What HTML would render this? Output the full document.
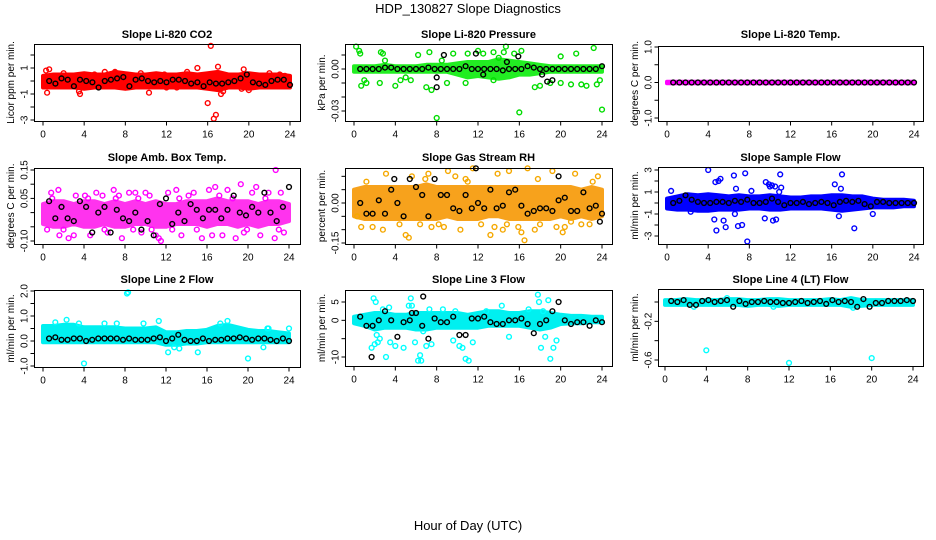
<!DOCTYPE html>
<html><head><meta charset="utf-8"><style>
html,body{margin:0;padding:0;background:#fff;}
svg{display:block;font-family:"Liberation Sans",sans-serif;}
</style></head><body>
<svg id="chart" width="936" height="540" viewBox="0 0 936 540">
<rect x="0" y="0" width="936" height="540" fill="#fff"/>
<text x="468" y="13" text-anchor="middle" font-size="13">HDP_130827  Slope Diagnostics</text>
<text x="468" y="530" text-anchor="middle" font-size="13">Hour of Day (UTC)</text>
</svg>
<script>
// ---- shared data ----
const medHours = [0.6,1.2,1.8,2.4,3.0,3.6,4.2,4.8,5.4,6.0,6.6,7.2,7.8,8.4,9.0,9.6,10.2,10.8,11.4,12.0,12.6,13.2,13.8,14.4,15.0,15.6,16.2,16.8,17.4,18.0,18.6,19.2,19.8,20.4,21.0,21.6,22.2,22.8,23.4,24.0];
const bandHours = [0,1,2,3,4,5,6,7,8,9,10,11,12,13,14,15,16,17,18,19,20,21,22,23,24];
const xTicks = [0,4,8,12,16,20,24];

// P1 CO2
const co2Lo = [-0.5,-0.5,-0.5,-0.5,-0.6,-0.5,-0.5,-0.5,-0.6,-0.5,-0.5,-0.5,-0.5,-0.5,-0.5,-0.5,-0.6,-0.7,-0.5,-0.5,-0.6,-0.5,-0.5,-0.5,-0.5];
const co2Hi = [0.4,0.5,0.5,0.5,0.6,0.5,0.5,0.7,0.6,0.5,0.5,0.6,0.5,0.5,0.6,0.5,0.6,0.7,0.5,0.5,0.6,0.5,0.5,0.5,0.4];
const co2Med = [0.0,-0.2,0.2,0.1,-0.4,0.1,0.0,-0.1,-0.5,0.0,0.1,0.2,0.3,-0.4,0.1,0.2,0.0,-0.1,0.0,-0.1,0.1,0.1,0.0,-0.2,-0.1,-0.4,-0.1,-0.2,-0.2,-0.1,0.0,0.2,0.5,-0.1,-0.2,-0.3,0.0,0.1,0.1,-0.3];
const co2X = [0.3,0.6,0.4,3.5,3.6,7.0,9.5,10.3,11.8,12.0,15.0,15.5,16.0,16.3,16.6,16.8,17.0,17.3,17.5,19.5,19.8,20.0,19.3,22.0,23.0,23.5,14.0,5.0,6.0,2.0,8.0,13.0];
const co2Y = [0.8,0.9,-0.9,-0.8,-1.0,0.7,0.6,-0.9,0.5,-0.5,1.0,-0.4,-1.7,2.7,-2.9,-2.6,1.1,-1.0,-0.8,0.9,0.5,-0.7,-0.6,0.6,0.5,0.4,0.7,0.5,0.7,0.6,-0.5,-0.5];

// P2 Pressure
const presLo = [-0.002,-0.002,-0.002,-0.002,-0.002,-0.002,-0.002,-0.002,-0.002,-0.002,-0.004,-0.006,-0.005,-0.006,-0.007,-0.006,-0.004,-0.004,-0.003,-0.002,-0.002,-0.002,-0.002,-0.002,-0.002];
const presHi = [0.002,0.002,0.002,0.003,0.002,0.002,0.002,0.003,0.003,0.003,0.004,0.005,0.005,0.005,0.007,0.006,0.005,0.004,0.003,0.002,0.002,0.002,0.002,0.002,0.002];
const presMed = [0.0,0.0,0.0,0.0,0.001,0.001,0.0,0.0,0.0,0.0,0.0,0.001,0.0,0.0,0.0,0.0,0.0,0.002,0.0,0.0,0.0,0.0,0.0,-0.001,0.0,0.0,0.0,0.002,0.001,0.0,0.0,0.0,0.0,0.0,0.0,0.0,0.0,0.0,0.0,0.002];
const presX = [0.2,0.5,0.6,0.7,1.0,1.2,2.6,2.8,2.5,3.0,4.0,4.5,5.0,5.5,6.2,7.0,7.5,7.3,8.0,8.5,9.0,9.6,10.8,11.0,12.0,12.5,13.5,13.5,14.0,14.5,15.5,16.0,16.2,14.7,17.5,18.0,20.0,20.0,21.0,21.5,22.0,22.5,23.2,23.5,24.0,23.8,19.0];
const presY = [0.016,0.013,0.011,-0.012,-0.008,-0.010,0.012,0.011,-0.010,0.006,-0.012,-0.008,-0.006,-0.008,0.010,-0.013,-0.015,0.012,-0.035,0.006,-0.010,0.011,-0.010,0.011,0.013,0.011,0.012,-0.008,0.008,0.012,0.011,-0.031,0.013,0.016,-0.013,-0.012,0.009,-0.010,-0.011,0.011,-0.011,-0.012,0.015,-0.011,-0.029,-0.008,-0.010];
const presBlkX = [8.0,8.0,8.7,11.8,12.5,14.8,15.9,18.2,18.7,19.2];
const presBlkY = [-0.006,-0.013,0.010,0.011,-0.004,0.005,0.009,-0.004,-0.009,-0.008];

// P3 Li-820 Temp
const tempLo = [-0.02,-0.02,-0.02,-0.02,-0.02,-0.02,-0.02,-0.02,-0.02,-0.02,-0.02,-0.02,-0.02,-0.02,-0.02,-0.02,-0.02,-0.02,-0.02,-0.02,-0.02,-0.02,-0.02,-0.02,-0.02];
const tempHi = [0.02,0.02,0.02,0.02,0.02,0.02,0.02,0.02,0.02,0.02,0.02,0.02,0.02,0.02,0.02,0.02,0.02,0.02,0.02,0.02,0.02,0.02,0.02,0.02,0.02];
const tempMed = [0,0,0,0,0,0,0,0,0,0,0,0,0,0,0,0,0,0,0,0,0,0,0,0,0,0,0,0,0,0,0,0,0,0,0,0,0,0,0,0];
const tempX = [];
const tempY = [];

// P4 Amb Box Temp
const ambLo = [-0.04,-0.05,-0.05,-0.04,-0.05,-0.05,-0.04,-0.05,-0.05,-0.04,-0.04,-0.05,-0.05,-0.04,-0.04,-0.04,-0.05,-0.04,-0.04,-0.05,-0.04,-0.05,-0.04,-0.04,-0.03];
const ambHi = [0.03,0.04,0.04,0.03,0.04,0.04,0.03,0.04,0.03,0.04,0.03,0.04,0.03,0.03,0.04,0.04,0.04,0.05,0.04,0.04,0.04,0.03,0.04,0.04,0.03];
const ambMed = [0.04,-0.02,0.02,-0.02,-0.03,0.04,0.02,-0.07,0.00,0.02,-0.07,0.01,-0.02,-0.03,0.00,-0.06,-0.03,-0.08,0.03,0.05,-0.04,0.00,-0.03,0.03,0.01,-0.02,0.01,0.01,-0.02,0.01,0.06,0.00,-0.01,0.02,0.00,0.07,0.00,-0.03,0.02,0.09];
const ambX = [0.4,0.8,1.5,1.6,2.5,3.2,4.4,4.6,5.2,6.3,6.9,7.1,7.7,8.4,9.0,9.6,10.0,11.0,11.3,11.5,12.2,13.0,13.5,14.7,15.5,16.2,16.8,17.5,18.0,18.8,19.3,19.6,20.8,21.2,22.0,22.6,22.7,23.2,23.5,3.0,5.8,10.6,14.2,16.5,20.4,0.9,2.0,4.1,6.0,7.4,8.8,9.3,10.4,12.6,13.3,15.0,17.2,18.5,19.9,21.7,23.0];
const ambY = [-0.06,0.07,0.08,-0.08,-0.09,0.06,0.05,-0.08,0.07,-0.07,0.08,0.05,-0.09,0.07,0.07,-0.07,0.07,-0.08,-0.09,-0.10,0.07,0.08,-0.08,0.07,-0.09,0.08,0.09,-0.08,0.08,-0.09,0.10,-0.07,0.09,-0.08,0.07,-0.09,0.15,0.07,-0.07,-0.08,0.06,-0.06,0.06,-0.08,0.07,0.05,-0.06,0.06,-0.06,0.06,-0.06,0.05,0.06,-0.06,0.05,-0.06,0.06,0.05,-0.06,0.05,-0.06];

// P5 Gas Stream RH
const rhLo = [-0.05,-0.06,-0.06,-0.06,-0.06,-0.06,-0.06,-0.06,-0.06,-0.05,-0.06,-0.06,-0.06,-0.05,-0.05,-0.06,-0.06,-0.06,-0.06,-0.06,-0.05,-0.06,-0.05,-0.06,-0.05];
const rhHi = [0.05,0.06,0.06,0.06,0.06,0.06,0.06,0.07,0.06,0.06,0.06,0.06,0.06,0.06,0.06,0.06,0.06,0.06,0.06,0.06,0.06,0.06,0.05,0.06,0.05];
const rhMed = [0.00,-0.04,-0.04,0.01,-0.04,0.05,0.00,-0.05,0.09,0.06,0.03,-0.05,0.09,0.03,0.03,-0.02,-0.03,0.03,-0.02,0.00,-0.02,0.05,-0.02,-0.01,0.04,0.05,-0.01,-0.04,-0.03,-0.02,-0.02,-0.03,0.01,0.02,-0.03,-0.03,0.04,-0.02,-0.01,-0.04];
const rhX = [0.3,0.7,2.8,3.1,5.0,5.3,5.6,6.4,7.2,7.5,8.7,9.1,10.3,10.8,11.5,12.3,13.2,13.6,14.4,15.0,15.9,16.2,16.5,16.8,17.5,18.0,19.2,19.6,20.4,21.4,22.0,22.8,23.6,1.8,9.8,13.9,20.2,1.2,4.4,6.9,8.2,11.0,14.8,17.8,21.0,23.1];
const rhY = [-0.05,-0.09,-0.10,0.11,-0.12,-0.13,0.10,-0.08,0.11,-0.09,-0.09,0.12,-0.10,0.09,0.13,-0.08,-0.12,-0.09,-0.10,0.12,-0.09,-0.11,-0.14,0.13,-0.10,-0.08,0.12,-0.09,-0.09,0.11,-0.08,-0.08,0.10,-0.09,0.10,0.11,-0.11,0.08,-0.08,0.09,-0.08,0.08,-0.08,0.09,-0.07,0.08];
const rhBlkX = [3.9,11.8,19.8,23.8];
const rhBlkY = [0.09,0.13,0.10,-0.07];

// P6 Sample Flow
const sfLo = [-0.5,-0.6,-0.6,-0.7,-0.7,-0.6,-0.6,-0.6,-0.5,-0.5,-0.6,-0.6,-0.5,-0.5,-0.5,-0.5,-0.6,-0.7,-0.6,-0.5,-0.4,-0.4,-0.4,-0.3,-0.3];
const sfHi = [0.4,0.6,0.8,0.7,0.8,0.7,0.6,0.7,0.6,0.6,0.7,0.6,0.5,0.5,0.6,0.6,0.7,0.7,0.6,0.6,0.4,0.3,0.3,0.3,0.2];
const sfMed = [0.0,0.2,0.7,0.3,0.1,0.0,0.0,0.1,0.1,0.0,0.2,0.1,0.3,0.0,0.0,0.1,0.4,0.1,-0.2,0.0,0.0,0.1,-0.1,0.0,0.1,0.0,-0.2,0.1,0.2,0.1,0.2,-0.1,-0.3,0.1,0.1,0.0,0.0,0.0,0.0,0.0];
const sfX = [0.4,4.0,4.7,4.8,5.0,5.2,5.5,5.7,6.5,6.7,6.9,7.3,7.6,7.8,8.2,9.5,9.6,9.9,10.0,10.2,10.3,10.5,10.6,10.9,11.0,11.1,16.3,16.7,16.9,17.0,18.2,20.0,4.6,6.6,2.3];
const sfY = [1.1,3.0,1.9,-2.5,2.0,2.2,-1.6,-2.2,2.5,1.3,-2.1,-2.0,2.7,-3.5,1.1,-1.4,1.9,1.7,1.5,1.6,-1.6,1.5,-1.5,1.0,2.6,1.4,1.7,-1.2,1.3,2.6,-2.3,-1.0,-1.5,-1.0,-0.8];

// P7 Line 2 Flow
const l2Lo = [-0.05,-0.05,-0.05,-0.05,-0.05,-0.05,-0.05,-0.05,-0.05,-0.05,-0.05,-0.05,-0.15,-0.15,-0.1,-0.1,-0.05,-0.05,-0.05,-0.05,-0.05,-0.05,-0.05,-0.05,-0.05];
const l2Hi = [0.6,0.6,0.65,0.65,0.55,0.55,0.55,0.55,0.5,0.5,0.5,0.55,0.35,0.35,0.4,0.4,0.45,0.6,0.65,0.55,0.45,0.4,0.4,0.35,0.3];
const l2Med = [0.1,0.15,0.05,0.05,0.1,0.1,0.0,0.05,0.1,0.1,0.1,0.1,0.05,0.1,0.05,0.05,0.05,0.1,0.15,0.0,0.1,0.25,0.05,0.0,0.0,0.1,0.0,0.05,0.05,0.1,0.1,0.15,0.1,0.05,0.1,0.1,0.05,0.0,0.1,0.0];
const l2X = [1.2,2.3,3.5,6.0,7.2,8.2,8.3,11.3,12.2,12.8,13.3,15.1,17.3,18.0,20.0,21.5,21.9,22.0,24.0,4.0,9.8];
const l2Y = [0.75,0.85,0.7,0.7,0.7,1.9,1.95,0.8,-0.45,-0.25,-0.3,-0.45,0.7,0.8,-0.7,-0.25,0.5,0.5,0.5,-0.9,0.7];

// P8 Line 3 Flow
const l3Lo = [-0.8,-1.5,-2.5,-2.0,-2.0,-2.0,-2.5,-2.5,-2.0,-2.0,-2.0,-2.0,-2.0,-1.5,-1.5,-1.5,-1.5,-2.0,-2.5,-2.0,-1.0,-0.8,-0.8,-0.5,-0.5];
const l3Hi = [1.0,1.5,2.0,2.0,1.5,1.5,2.0,2.0,2.0,2.0,2.0,1.5,2.0,2.5,2.5,2.0,2.0,2.5,2.5,2.0,1.5,1.2,1.2,1.0,1.0];
const l3Med = [1.0,-1.5,-1.5,0.0,2.5,0.0,-4.5,-0.5,0.0,2.0,-1.5,-5.0,0.5,-0.5,-0.5,1.0,-4.0,-4.0,0.5,0.5,1.0,-0.5,-1.0,-1.0,0.0,0.0,0.5,-1.0,-3.5,-1.0,0.0,2.5,5.0,0.0,-1.0,-0.5,-0.5,-1.5,0.0,-0.5];
const l3X = [1.7,1.9,2.0,2.1,2.3,2.5,2.8,3.1,3.4,3.5,4.0,4.8,5.3,5.5,5.6,5.9,6.2,6.4,6.5,6.7,7.0,7.5,8.6,9.6,9.8,10.2,10.5,10.8,11.1,11.5,14.3,15.0,17.8,17.9,18.1,18.3,18.5,18.8,19.0,19.3,19.6,2.2,7.3,12.8,16.9];
const l3Y = [-7.5,6.0,-6.5,5.0,-6.0,-5.0,3.0,-10.0,3.5,-6.0,-7.0,-7.5,4.0,6.0,4.0,-6.0,-11.0,-9.5,-11.0,-3.0,-7.0,-6.5,3.0,-5.5,2.5,-7.0,-7.5,-10.5,-11.0,-6.0,4.0,-4.5,7.0,5.0,-7.5,2.5,-4.5,5.5,-10.5,-7.5,-5.5,-4.0,3.0,2.5,3.0];
const l3BlkX = [1.7,5.6,6.7];
const l3BlkY = [-10.0,2.0,6.5];

// P9 Line 4 (LT) Flow
const l4Lo = [-0.03,-0.03,-0.03,-0.03,-0.03,-0.03,-0.03,-0.03,-0.04,-0.03,-0.03,-0.04,-0.03,-0.03,-0.03,-0.03,-0.03,-0.03,-0.05,-0.04,-0.03,-0.03,-0.03,-0.03,-0.03];
const l4Hi = [0.02,0.02,0.03,0.02,0.02,0.02,0.03,0.03,0.02,0.02,0.03,0.03,0.02,0.02,0.02,0.02,0.03,0.02,0.04,0.02,0.02,0.02,0.02,0.02,0.02];
const l4Med = [0.01,0.0,0.02,-0.03,-0.03,0.01,0.02,0.0,0.01,0.02,-0.05,0.01,-0.02,0.0,0.0,0.01,0.0,0.0,-0.01,-0.01,0.0,0.01,-0.01,0.0,0.01,-0.02,0.02,0.0,0.01,0.0,-0.05,0.03,-0.05,-0.01,-0.01,0.01,0.01,0.01,0.02,0.01];
const l4X = [4.0,12.0,20.0,6.0,2.8,10.5,18.2];
const l4Y = [-0.5,-0.63,-0.58,0.04,-0.05,-0.05,-0.06];

// ---- layout ----
const panels = [
 {id:'co2', title:'Slope Li-820 CO2', ylab:'Licor ppm per min.', col:'#ff0000', fill:'#ff0000', ty:38, bx:34,by:44,bw:266,bh:77, x0:43,x1:290, ya:1,ypa:68, yb:-3,ypb:120, ticks:[2,1,0,-1,-2,-3], labels:['','1','','-1','','-3'], lo:co2Lo, hi:co2Hi, med:co2Med, px:co2X, py:co2Y, ytx:10},
 {id:'pressure', title:'Slope Li-820 Pressure', ylab:'kPa per min.', col:'#00dd00', fill:'#22ee22', ty:38, bx:345,by:44,bw:267,bh:77, x0:354,x1:602, ya:0,ypa:69, yb:-0.03,ypb:111, ticks:[0.01,0,-0.01,-0.02,-0.03], labels:['','0.00','','','-0.03'], lo:presLo, hi:presHi, med:presMed, px:presX, py:presY, bkx:presBlkX, bky:presBlkY, ytx:321},
 {id:'li820-temp', title:'Slope Li-820 Temp.', ylab:'degrees C per min.', col:'#ff00ff', fill:'#ff00ff', ty:38, bx:658,by:46,bw:265,bh:75, x0:667,x1:914, ya:1,ypa:47, yb:-1,ypb:118, ticks:[1,0.5,0,-0.5,-1], labels:['1.0','','0.0','','-1.0'], lo:tempLo, hi:tempHi, med:tempMed, px:tempX, py:tempY, ytx:634},
 {id:'amb-temp', title:'Slope Amb. Box Temp.', ylab:'degrees C per min.', col:'#ff00ff', fill:'#ff33ee', ty:161, bx:34,by:168,bw:266,bh:76, x0:43,x1:289, ya:0.15,ypa:170, yb:-0.10,ypb:241, ticks:[0.15,0.10,0.05,0,-0.05,-0.10], labels:['0.15','','0.05','','','-0.10'], lo:ambLo, hi:ambHi, med:ambMed, px:ambX, py:ambY, ytx:10},
 {id:'rh', title:'Slope Gas Stream RH', ylab:'percent per min.', col:'#f5a800', fill:'#f7a21c', ty:161, bx:345,by:168,bw:267,bh:76, x0:354,x1:602, ya:0,ypa:203, yb:-0.15,ypb:243, ticks:[0.10,0.05,0,-0.05,-0.10,-0.15], labels:['','','0.00','','','-0.15'], lo:rhLo, hi:rhHi, med:rhMed, px:rhX, py:rhY, bkx:rhBlkX, bky:rhBlkY, ytx:321},
 {id:'sample-flow', title:'Slope Sample Flow', ylab:'ml/min per min.', col:'#0000ff', fill:'#0000ff', ty:161, bx:658,by:167,bw:265,bh:77, x0:667,x1:914, ya:3,ypa:170, yb:-3,ypb:236, ticks:[3,2,1,0,-1,-2,-3], labels:['3','','1','','-1','','-3'], lo:sfLo, hi:sfHi, med:sfMed, px:sfX, py:sfY, ytx:634},
 {id:'line2-flow', title:'Slope Line 2 Flow', ylab:'ml/min per min.', col:'#00ffff', fill:'#00f0f0', ty:283, bx:34,by:290,bw:266,bh:77, x0:43,x1:289, ya:2,ypa:291, yb:-1,ypb:366, ticks:[2,1.5,1,0.5,0,-0.5,-1], labels:['2.0','','1.0','','0.0','','-1.0'], lo:l2Lo, hi:l2Hi, med:l2Med, px:l2X, py:l2Y, ytx:10},
 {id:'line3-flow', title:'Slope Line 3 Flow', ylab:'ml/min per min.', col:'#00ffff', fill:'#00f0f0', ty:283, bx:345,by:290,bw:267,bh:76, x0:354,x1:602, ya:5,ypa:302, yb:-10,ypb:357, ticks:[5,0,-5,-10], labels:['5','0','','-10'], lo:l3Lo, hi:l3Hi, med:l3Med, px:l3X, py:l3Y, bkx:l3BlkX, bky:l3BlkY, ytx:321},
 {id:'line4-flow', title:'Slope Line 4 (LT) Flow', ylab:'ml/min per min.', col:'#00ffff', fill:'#00f0f0', ty:283, bx:658,by:289,bw:265,bh:77, x0:665,x1:913, ya:0,ypa:302, yb:-0.6,ypb:360, ticks:[0,-0.2,-0.4,-0.6], labels:['','-0.2','','-0.6'], lo:l4Lo, hi:l4Hi, med:l4Med, px:l4X, py:l4Y, ytx:634}
];

const NS = 'http://www.w3.org/2000/svg';
const svg = document.getElementById('chart');
function mk(tag, attrs, parent){
  const e = document.createElementNS(NS, tag);
  for (const k in attrs) e.setAttribute(k, attrs[k]);
  (parent||svg).appendChild(e);
  return e;
}

panels.forEach(p => {
  const g = mk('g', {});
  
  
  const xs = h => p.x0 + (h/24)*(p.x1 - p.x0);
  const ys = v => p.ypa + (v - p.ya)*(p.ypb - p.ypa)/(p.yb - p.ya);
  const clipId = 'clip-' + p.id;
  const cp = mk('clipPath', {id: clipId}, g);
  mk('rect', {x:p.bx-4, y:p.by-4, width:p.bw+8, height:p.bh+8}, cp);
  const data = mk('g', {'clip-path':'url(#'+clipId+')'}, g);

  let pts = [];
  bandHours.forEach((h,i)=>pts.push(xs(h).toFixed(1)+','+ys(p.hi[i]).toFixed(1)));
  for (let i=bandHours.length-1;i>=0;i--) pts.push(xs(bandHours[i]).toFixed(1)+','+ys(p.lo[i]).toFixed(1));
  const band = mk('polygon', {points:pts.join(' '), fill:p.fill, stroke:p.fill, 'stroke-width':4, 'stroke-linejoin':'round'}, data);
  
  

  p.px.forEach((h,i)=>{
    const c = mk('circle', {cx:xs(h).toFixed(1), cy:ys(p.py[i]).toFixed(1), r:2.4, fill:'none', stroke:p.col, 'stroke-width':1.4}, data);
    
    
  });
  medHours.forEach((h,i)=>{
    const c = mk('circle', {cx:xs(h).toFixed(1), cy:ys(p.med[i]).toFixed(1), r:2.4, fill:'none', stroke:'#000', 'stroke-width':1.4}, data);
    
    
  });
  if (p.bkx) p.bkx.forEach((h,i)=>{
    const c = mk('circle', {cx:xs(h).toFixed(1), cy:ys(p.bky[i]).toFixed(1), r:2.4, fill:'none', stroke:'#000', 'stroke-width':1.4}, data);
    
    
  });

  const box = mk('rect', {x:p.bx+0.5, y:p.by+0.5, width:p.bw, height:p.bh, fill:'none', stroke:'#000', 'stroke-width':1}, g);
  
  

  const t = mk('text', {x:(p.bx+p.bw/2), y:p.ty, 'text-anchor':'middle', 'font-size':11, 'font-weight':'bold'}, g);
  t.textContent = p.title;
  
  

  const xa = mk('g', {}, g);
  
  
  const yb = p.by + p.bh + 0.5;
  mk('line', {x1:xs(0), y1:yb, x2:xs(24), y2:yb, stroke:'#000'}, xa);
  xTicks.forEach(v=>{
    mk('line', {x1:xs(v), y1:yb, x2:xs(v), y2:yb+4, stroke:'#000'}, xa);
    const tl = mk('text', {x:xs(v), y:yb+16, 'text-anchor':'middle', 'font-size':10}, xa);
    tl.textContent = v;
  });
  const ya = mk('g', {}, g);
  
  
  const xl = p.bx + 0.5;
  mk('line', {x1:xl, y1:ys(p.ticks[0]), x2:xl, y2:ys(p.ticks[p.ticks.length-1]), stroke:'#000'}, ya);
  p.ticks.forEach((v,i)=>{
    const y = ys(v);
    mk('line', {x1:xl-4, y1:y, x2:xl, y2:y, stroke:'#000'}, ya);
    if (p.labels[i]) {
      const tl = mk('text', {x:0, y:0, 'text-anchor':'middle', 'font-size':10, transform:'translate('+(xl-7)+','+y+') rotate(-90)'}, ya);
      tl.textContent = p.labels[i];
    }
  });
  const yt = mk('text', {x:0, y:0, 'text-anchor':'middle', 'font-size':10, transform:'translate('+(p.ytx+4)+','+(p.by+p.bh/2)+') rotate(-90)'}, g);
  yt.textContent = p.ylab;
  
  
});
</script>
</body></html>
